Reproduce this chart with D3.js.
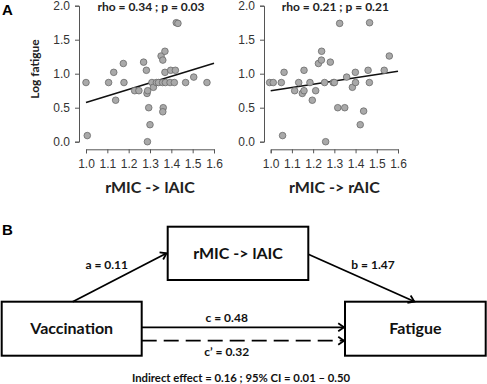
<!DOCTYPE html>
<html><head><meta charset="utf-8">
<script src="https://cdn.jsdelivr.net/npm/d3@7"></script>
<style>body{margin:0;background:#fff}svg{display:block}</style>
</head><body>
<svg id="c" width="487" height="384"></svg>
<script>
// ---- data ----
const xTicks = [1.0, 1.1, 1.2, 1.3, 1.4, 1.5, 1.6];
const yTicks = [0.0, 0.5, 1.0, 1.5, 2.0];

const leftX = [1.00, 1.006, 1.106, 1.13, 1.139, 1.175, 1.178, 1.228, 1.248, 1.27, 1.283, 1.286, 1.289, 1.294, 1.288, 1.30, 1.309, 1.316, 1.33, 1.34, 1.359, 1.362, 1.36, 1.352, 1.36, 1.37, 1.37, 1.372, 1.394, 1.397, 1.414, 1.419, 1.423, 1.431, 1.467, 1.505, 1.567];
const leftY = [0.87, 0.09, 0.87, 1.02, 0.61, 1.15, 0.87, 0.75, 0.75, 1.17, 1.05, 0.71, 0.75, 0.50, 0.00, 0.25, 0.87, 0.80, 0.87, 0.87, 0.87, 0.50, 0.44, 1.26, 1.20, 1.33, 1.02, 0.87, 0.87, 1.05, 0.87, 1.05, 1.75, 1.74, 0.87, 0.95, 0.87];
const leftFit = [[1.0, 0.575], [1.6, 1.155]];
const leftStat = "rho = 0.34 ; p = 0.03";
const leftLabel = "rMIC -> lAIC";

const rightX = [0.995, 1.012, 1.05, 1.063, 1.056, 1.113, 1.132, 1.149, 1.157, 1.157, 1.185, 1.196, 1.212, 1.225, 1.239, 1.24, 1.254, 1.259, 1.281, 1.295, 1.30, 1.316, 1.325, 1.349, 1.358, 1.385, 1.399, 1.40, 1.422, 1.438, 1.459, 1.465, 1.466, 1.535, 1.559];
const rightY = [0.87, 0.87, 0.87, 1.02, 0.09, 0.75, 0.87, 0.71, 0.75, 1.05, 0.87, 0.61, 0.75, 1.15, 1.20, 1.33, 0.87, 0.00, 1.17, 0.87, 0.87, 0.50, 1.74, 0.50, 0.95, 0.80, 1.02, 0.87, 0.25, 0.45, 1.05, 0.87, 1.75, 1.05, 1.26];
const rightFit = [[1.0, 0.75], [1.6, 1.035]];
const rightStat = "rho = 0.21 ; p = 0.21";
const rightLabel = "rMIC -> rAIC";

const yTitle = "Log fatigue";

// mediation diagram
const boxNames = ["Vaccination", "rMIC -> lAIC", "Fatigue"];
const pathLabels = ["a = 0.11", "b = 1.47", "c = 0.48", "c\u2019 = 0.32"];
const indirectText = "Indirect effect = 0.16 ; 95% CI = 0.01 \u2013 0.50";

// ---- drawing ----
const svg = d3.select("#c");
const F = "Lato, 'Open Sans', 'Liberation Sans', Arial, sans-serif";
const TF = "'Liberation Sans', Arial, sans-serif";

svg.append("text").attr("x", 2).attr("y", 15).text("A")
  .attr("font-family", TF).attr("font-weight", "bold").attr("font-size", 15);
svg.append("text").attr("x", 2).attr("y", 235).text("B")
  .attr("font-family", TF).attr("font-weight", "bold").attr("font-size", 15);

function panel(x0, x1, yAxisX, xs, ys, fit, stat, label, showTitle) {
  const x = d3.scaleLinear().domain([1.0, 1.6]).range([x0, x1]);
  const y = d3.scaleLinear().domain([0, 2]).range([141.7, 5.7]);
  const g = svg.append("g");

  const ya = g.append("g").attr("transform", `translate(${yAxisX},0)`)
    .call(d3.axisLeft(y).tickValues(yTicks).tickFormat(d3.format(".1f")).tickSize(4).tickPadding(5));
  const xa = g.append("g").attr("transform", `translate(0,149.3)`)
    .call(d3.axisBottom(x).tickValues(xTicks).tickFormat(d3.format(".1f")).tickSize(4).tickPadding(6));
  [ya, xa].forEach(a => {
    a.select(".domain").attr("stroke", "#555").attr("stroke-width", 1);
    a.selectAll(".tick line").attr("stroke", "#555");
    a.selectAll(".tick text").attr("font-family", TF).attr("font-size", 12).attr("fill", "#333");
  });

  g.append("line")
    .attr("x1", x(fit[0][0])).attr("y1", y(fit[0][1]))
    .attr("x2", x(fit[1][0])).attr("y2", y(fit[1][1]))
    .attr("stroke", "#111").attr("stroke-width", 1.6);

  g.selectAll("circle").data(d3.range(xs.length)).join("circle")
    .attr("cx", i => x(xs[i])).attr("cy", i => y(ys[i])).attr("r", 3.3)
    .attr("fill", "#a9a9a9").attr("stroke", "#6a6a6a").attr("stroke-width", 0.8);

  g.append("text").attr("x", (x0 + x1) / 2 + 1).attr("y", 11).attr("text-anchor", "middle")
    .text(stat).attr("font-family", F).attr("font-weight", "bold").attr("font-size", 12).attr("fill", "#222");

  g.append("text").attr("x", (x0 + x1) / 2).attr("y", 193).attr("text-anchor", "middle")
    .text(label).attr("font-family", F).attr("font-weight", "bold").attr("font-size", 16).attr("fill", "#222");

  if (showTitle) {
    g.append("text").attr("transform", `translate(39,69) rotate(-90)`).attr("text-anchor", "middle")
      .text(yTitle).attr("font-family", F).attr("font-weight", "bold").attr("font-size", 12).attr("fill", "#222");
  }
}
panel(86, 214, 79, leftX, leftY, leftFit, leftStat, leftLabel, true);
panel(270.7, 398, 264, rightX, rightY, rightFit, rightStat, rightLabel, false);

// boxes
const boxes = [
  {x: 1.7, y: 301.7, w: 140, h: 54},
  {x: 167.7, y: 226.7, w: 140.6, h: 53.3},
  {x: 345, y: 301.7, w: 140.7, h: 54}
];
svg.selectAll("rect.box").data(boxes).join("rect").attr("class", "box")
  .attr("x", d => d.x).attr("y", d => d.y).attr("width", d => d.w).attr("height", d => d.h)
  .attr("fill", "none").attr("stroke", "#000").attr("stroke-width", 2);
svg.selectAll("text.box").data(boxes).join("text").attr("class", "box")
  .attr("x", d => d.x + d.w / 2).attr("y", d => d.y + d.h / 2 + 5.5).attr("text-anchor", "middle")
  .text((d, i) => boxNames[i]).attr("font-family", F).attr("font-size", 16).attr("font-weight", "bold").attr("fill", "#111");

function arrow(x1, y1, x2, y2, dash) {
  const l = svg.append("line").attr("x1", x1).attr("y1", y1).attr("x2", x2).attr("y2", y2)
    .attr("stroke", "#000").attr("stroke-width", 1.8);
  if (dash) l.attr("stroke-dasharray", "15,7");
  const ang = Math.atan2(y2 - y1, x2 - x1);
  const L = 7, W = 0.6;
  const p = [
    [x2 - L * Math.cos(ang - W), y2 - L * Math.sin(ang - W)],
    [x2, y2],
    [x2 - L * Math.cos(ang + W), y2 - L * Math.sin(ang + W)]
  ];
  svg.append("path").attr("d", d3.line()(p)).attr("fill", "none").attr("stroke", "#000").attr("stroke-width", 1.8);
}
arrow(72.7, 301.7, 166.5, 253.3, false);
arrow(308.3, 254.3, 414.3, 301.5, false);
arrow(141.7, 327.3, 344, 327.3, false);
arrow(141.7, 340.7, 344, 340.7, true);

const labelPos = [[106.7, 269], [373, 269], [226.7, 322], [226.7, 356]];
svg.selectAll("text.pl").data(labelPos).join("text").attr("class", "pl")
  .attr("x", d => d[0]).attr("y", d => d[1]).attr("text-anchor", "middle")
  .text((d, i) => pathLabels[i]).attr("font-family", F).attr("font-weight", "bold").attr("font-size", 12).attr("fill", "#111");

svg.append("text").attr("x", 241).attr("y", 382).attr("text-anchor", "middle")
  .text(indirectText).attr("font-family", F).attr("font-weight", "bold").attr("font-size", 11.3).attr("fill", "#111");
</script>
</body></html>
